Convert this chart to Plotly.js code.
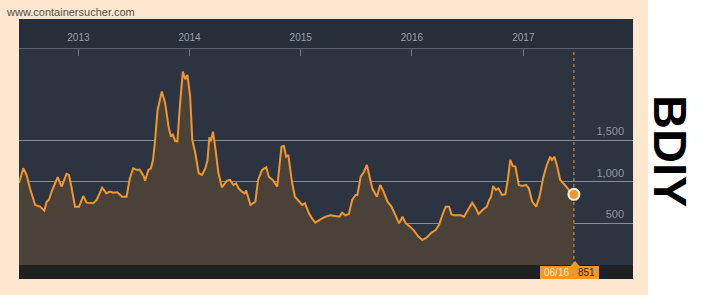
<!DOCTYPE html>
<html>
<head>
<meta charset="utf-8">
<script src="https://cdn.plot.ly/plotly-3.0.1.min.js"></script>
<style>html,body{margin:0;padding:0;background:#fde8cf;}#chart{width:708px;height:295px;}</style>
</head>
<body>
<div id="chart"></div>
<script>
const dates = [
"2012-06-20","2012-07-04","2012-07-15","2012-07-26","2012-08-12","2012-08-28","2012-09-11","2012-09-19","2012-09-26","2012-10-05",
"2012-10-25","2012-11-07","2012-11-23","2012-12-01","2012-12-10","2012-12-21","2013-01-03","2013-01-17","2013-01-28","2013-02-19",
"2013-03-02","2013-03-20","2013-04-03","2013-04-15","2013-04-25","2013-05-09","2013-05-25","2013-06-08","2013-06-19","2013-06-30",
"2013-07-12","2013-07-21","2013-08-03","2013-08-08","2013-08-19","2013-08-27","2013-09-03","2013-09-10","2013-09-18","2013-10-02",
"2013-10-13","2013-10-24","2013-11-01","2013-11-07","2013-11-15","2013-11-22","2013-12-01","2013-12-10","2013-12-18","2013-12-25",
"2014-01-03","2014-01-10","2014-01-20","2014-01-31","2014-02-11","2014-02-22","2014-03-01","2014-03-07","2014-03-12","2014-03-19",
"2014-03-26","2014-04-06","2014-04-17","2014-05-04","2014-05-14","2014-05-25","2014-06-03","2014-06-11","2014-06-22","2014-07-01",
"2014-07-06","2014-07-20","2014-08-05","2014-08-14","2014-08-27","2014-09-10","2014-09-18","2014-10-01","2014-10-16","2014-10-21",
"2014-10-30","2014-11-07","2014-11-14","2014-11-21","2014-12-04","2014-12-13","2014-12-26","2015-01-06","2015-01-15","2015-01-28",
"2015-02-07","2015-02-18","2015-03-07","2015-03-23","2015-04-09","2015-04-25","2015-05-08","2015-05-17","2015-05-28","2015-06-08",
"2015-06-19","2015-06-30","2015-07-06","2015-07-17","2015-07-28","2015-08-06","2015-08-14","2015-08-24","2015-09-08","2015-09-19",
"2015-09-30","2015-10-13","2015-10-26","2015-11-09","2015-11-20","2015-12-01","2015-12-12","2015-12-26","2016-01-08","2016-01-21",
"2016-02-04","2016-02-19","2016-03-03","2016-03-19","2016-03-30","2016-04-10","2016-04-21","2016-05-02","2016-05-10","2016-05-19",
"2016-06-10","2016-06-20","2016-07-07","2016-07-17","2016-07-28","2016-08-07","2016-08-20","2016-09-03","2016-09-11","2016-09-17",
"2016-09-24","2016-10-03","2016-10-11","2016-10-23","2016-11-03","2016-11-11","2016-11-19","2016-11-27","2016-12-06","2016-12-17",
"2016-12-28","2017-01-10","2017-01-19","2017-01-30","2017-02-12","2017-02-23","2017-03-08","2017-03-19","2017-03-30","2017-04-05",
"2017-04-13","2017-04-21","2017-05-02","2017-05-13","2017-05-22","2017-06-03","2017-06-16"
];
const bdi = [
988,1165,1085,924,723,703,655,763,783,884,
1057,944,1097,1085,924,703,703,831,751,743,
783,932,864,884,871,876,823,823,1045,1165,
1145,1149,1072,1016,1145,1165,1265,1506,1868,2089,
1948,1667,1546,1570,1494,1490,1948,2329,2237,2290,
2028,1506,1346,1105,1085,1165,1265,1538,1490,1606,
1426,1105,936,1016,1024,964,984,924,884,864,
896,723,763,1024,1145,1177,1064,1024,944,1145,
1426,1434,1305,1326,984,823,763,723,743,623,
562,510,550,582,598,586,582,630,598,614,
783,844,844,1064,1124,1205,1064,924,823,964,
884,763,703,582,502,582,502,462,414,349,
301,333,382,422,482,602,703,703,610,598,
598,582,683,751,691,614,663,703,783,823,
952,904,924,844,852,1024,1265,1193,1185,964,
952,964,924,763,703,823,1064,1205,1305,1265,
1305,1205,1024,984,944,884,851
];
const yearTicks = ["2013-01-01","2014-01-01","2015-01-01","2016-01-01","2017-01-01"];
const yearLabels = ["2013","2014","2015","2016","2017"];
const yTicks = [500,1000,1500];
const yTickLabels = ["500","1,000","1,500"];
const seriesName = "BDIY";
const watermark = "www.containersucher.com";
const lastLabel = "06/16";

const lastDate = dates[dates.length-1];
const lastVal = bdi[bdi.length-1];
const W = 708, H = 295;
const px = v => v / W;
const py = v => 1 - v / H;
const ORANGE = "#f0962d";

const traces = [
  {x: dates, y: bdi, type: "scatter", mode: "lines", fill: "tozeroy",
   fillcolor: "#4a4239", line: {color: ORANGE, width: 2}, hoverinfo: "skip"},
  {x: [lastDate], y: [lastVal], type: "scatter", mode: "markers",
   marker: {size: 11, color: ORANGE, line: {color: "#f6efe4", width: 2}}, hoverinfo: "skip"}
];

const layout = {
  width: W, height: H,
  margin: {l: 0, r: 0, t: 0, b: 0},
  paper_bgcolor: "#fde8cf",
  plot_bgcolor: "rgba(0,0,0,0)",
  showlegend: false,
  font: {family: "Liberation Sans, Arial, sans-serif"},
  xaxis: {
    domain: [px(19), px(633)], type: "date",
    range: ["2012-06-20", "2017-12-27"],
    side: "top", tickvals: yearTicks, ticktext: yearLabels,
    ticks: "inside", ticklen: 7, tickwidth: 1, tickcolor: "#6a7380",
    showline: true, linecolor: "#5b6370", linewidth: 1,
    showgrid: false, zeroline: false,
    tickfont: {size: 10, color: "#9ba1a9"}, ticklabelstandoff: 3
  },
  yaxis: {
    domain: [py(265), py(49)], range: [0, 2602],
    side: "right", ticklabelposition: "inside",
    tickvals: yTicks, ticktext: yTickLabels,
    showgrid: true, gridcolor: "#878d95", gridwidth: 1,
    zeroline: false, showline: false, ticks: "",
    tickfont: {size: 11, color: "#9196a0"},
    ticklabelshift: -9, ticklabelstandoff: 6
  },
  shapes: [
    {type: "rect", xref: "paper", yref: "paper", x0: px(648), x1: 1, y0: 0, y1: 1,
     fillcolor: "#ffffff", line: {width: 0}, layer: "below"},
    {type: "rect", xref: "paper", yref: "paper", x0: px(19), x1: px(633), y0: py(49), y1: py(19),
     fillcolor: "#262e3a", line: {width: 0}, layer: "below"},
    {type: "rect", xref: "paper", yref: "paper", x0: px(19), x1: px(633), y0: py(265), y1: py(49),
     fillcolor: "#2c3441", line: {width: 0}, layer: "below"},
    {type: "rect", xref: "paper", yref: "paper", x0: px(19), x1: px(633), y0: py(279), y1: py(265),
     fillcolor: "#1f2022", line: {width: 0}, layer: "below"},
    {type: "line", xref: "x", yref: "paper", x0: lastDate, x1: lastDate, y0: py(265), y1: py(49),
     line: {color: ORANGE, width: 1, dash: "dot"}},
    {type: "rect", xref: "paper", yref: "paper", x0: px(540), x1: px(599), y0: py(279), y1: py(266),
     fillcolor: ORANGE, line: {width: 0}},
    {type: "path", xref: "paper", yref: "paper",
     path: `M ${px(575)},${py(261)} L ${px(570)},${py(266.5)} L ${px(580)},${py(266.5)} Z`,
     fillcolor: ORANGE, line: {width: 0}}
  ],
  annotations: [
    {text: watermark, xref: "paper", yref: "paper", x: px(4), y: py(12),
     xanchor: "left", yanchor: "middle", showarrow: false,
     font: {size: 11, color: "#4d4d4d", family: "Liberation Sans, Arial, sans-serif"}},
    {text: "<b>" + seriesName + "</b>", xref: "paper", yref: "paper", x: px(671), y: py(151),
     xanchor: "center", yanchor: "middle", showarrow: false, textangle: 90,
     font: {size: 47, color: "#000000", family: "Liberation Sans, Arial, sans-serif"}},
    {text: lastLabel, xref: "paper", yref: "paper", x: px(556), y: py(272.5),
     xanchor: "center", yanchor: "middle", showarrow: false,
     font: {size: 10, color: "#fde6c8"}},
    {text: String(lastVal), xref: "paper", yref: "paper", x: px(586), y: py(272.5),
     xanchor: "center", yanchor: "middle", showarrow: false,
     font: {size: 10, color: "#3a2a14"}}
  ]
};

Plotly.newPlot("chart", traces, layout, {displayModeBar: false, staticPlot: true});
</script>
</body>
</html>
